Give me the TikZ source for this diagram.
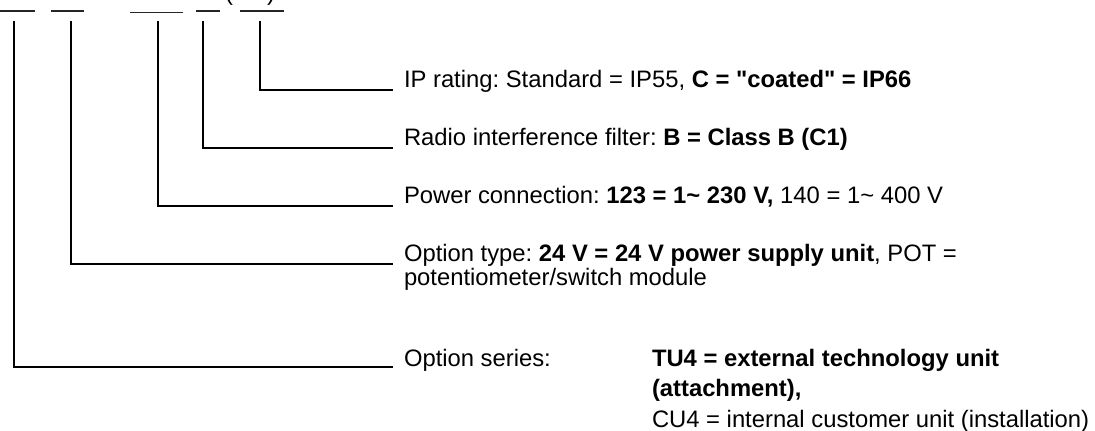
\documentclass[tikz,border=0pt]{standalone}
\usepackage{fontspec}
\setmainfont{Liberation Sans}[Ligatures=TeXOff]
\frenchspacing
\begin{document}
\begin{tikzpicture}[x=1pt,y=-1pt,
  leader/.style={line width=2.3pt,line join=miter},
  blank/.style={line width=1.4pt,black!85},
  lbl/.style={anchor=base west,inner sep=0pt,outer sep=0pt,font=\frenchspacing\fontsize{23.8}{25}\selectfont}]
\useasboundingbox (0,0) rectangle (1095,431);
% order-number blanks (cut at the top edge)
\draw[blank] (0,11) -- (35,11);
\draw[blank] (51,11) -- (84,11);
\draw[blank] (130,12.7) -- (183,12.7);
\draw[blank] (196,11) -- (220,11);
\draw[blank] (240,11) -- (284,11);
\node[lbl] (po) at (225,0) {(};
\node[lbl] (pc) at (267,0) {)};
% tops of leaders
\coordinate (t1) at (260,21);
\coordinate (t2) at (203,21);
\coordinate (t3) at (158,21);
\coordinate (t4) at (71,21);
\coordinate (t5) at (14,21);
% ends of leaders
\coordinate (e1) at (393,90);
\coordinate (e2) at (393,148);
\coordinate (e3) at (393,206);
\coordinate (e4) at (393,264);
\coordinate (e5) at (393,367);
\draw[leader] (t1) |- (e1);
\draw[leader] (t2) |- (e2);
\draw[leader] (t3) |- (e3);
\draw[leader] (t4) |- (e4);
\draw[leader] (t5) |- (e5);
% texts
\node[lbl] (l1) at (404,87.5) {IP rating: Standard = IP55, \textbf{C = "coated" = IP66}};
\node[lbl] (l2) at (404,145.5) {Radio interference filter: \textbf{B = Class B (C1)}};
\node[lbl] (l3) at (404,203.5) {Power connection: \textbf{123 = 1\textasciitilde{} 230 V,} 140 = 1\textasciitilde{} 400 V};
\node[lbl] (l4a) at (404,261) {Option type: \textbf{24 V = 24 V power supply unit}, POT =};
\node[lbl] (l4b) at (404,285) {potentiometer/switch module};
\node[lbl] (l5) at (404,366) {Option series:};
\node[lbl] (l5a) at (652,366) {\textbf{TU4 = external technology unit}};
\node[lbl] (l5b) at (652,396.5) {\textbf{(attachment),}};
\node[lbl] (l5c) at (652,427) {CU4 = internal customer unit (installation)};
\end{tikzpicture}
\end{document}
